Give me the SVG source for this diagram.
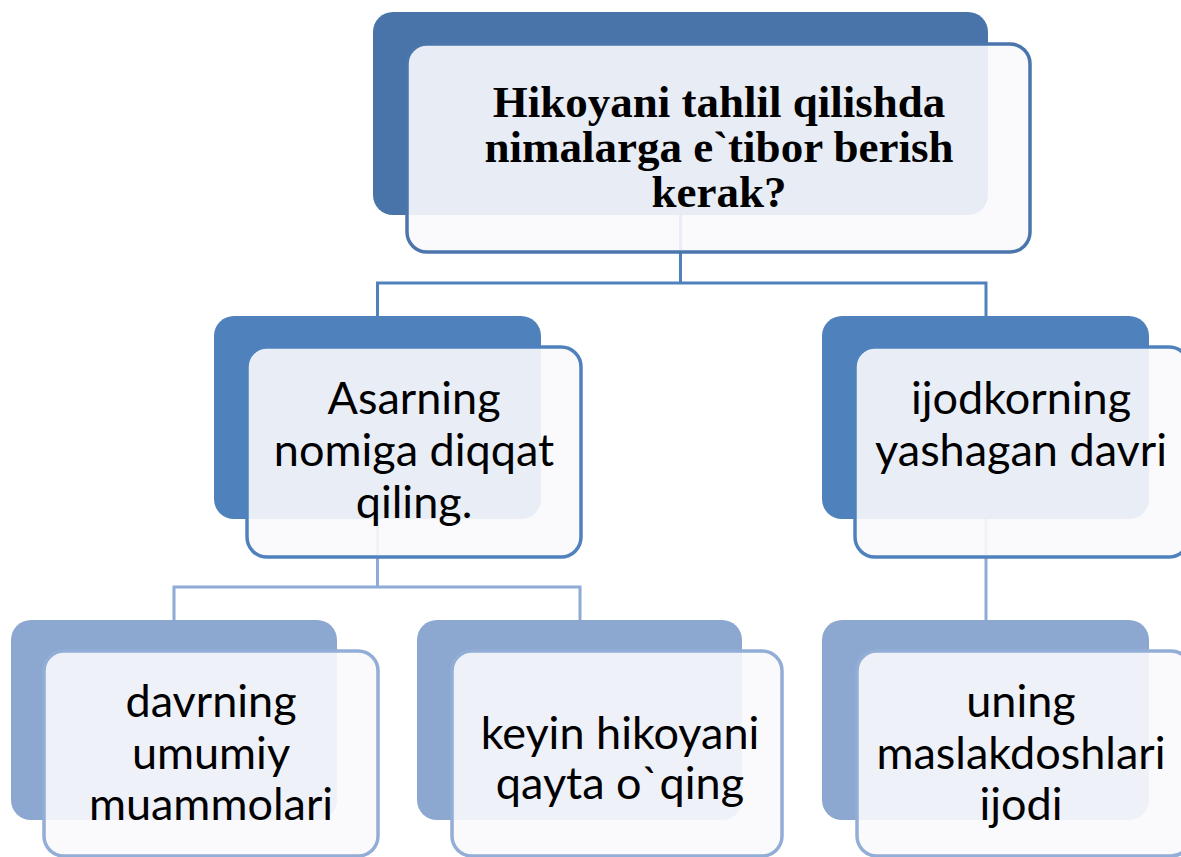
<svg xmlns="http://www.w3.org/2000/svg" width="1181" height="857" viewBox="0 0 1181 857">
  <style>
    .bg { fill: #ffffff; }
    .back1 { fill: #4874aa; }
    .back2 { fill: #4f81bd; }
    .back3 { fill: #8ca7d0; }
    .front { fill: #f9fafc; fill-opacity: 0.9; }
    .fs1 { stroke: #4a76ab; stroke-width: 3.5; }
    .fs2 { stroke: #4f81bd; stroke-width: 3.5; }
    .fs3 { stroke: #93aed6; stroke-width: 3.5; }
    .c1 { fill: none; stroke: #4f81bd; stroke-width: 3; }
    .c2 { fill: none; stroke: #8eaad6; stroke-width: 3; }
    .t1 { font-family: "Liberation Serif", "Times New Roman", serif; font-weight: bold; font-size: 45px; fill: #000; text-anchor: middle; }
    .t2 { font-family: Lato, "Open Sans", sans-serif; font-size: 45px; fill: #000; text-anchor: middle; }
  </style>
  <rect class="bg" x="0" y="0" width="1181" height="857"/>

  <g id="connectors">
    <path class="c1" d="M680.5 215 V283 M377.5 283 H986 M377.5 281.5 V316 M986 281.5 V316"/>
    <path class="c2" d="M377.5 519 V587 M174 587 H580 M174 585.5 V620 M580 585.5 V620"/>
    <path class="c2" d="M986 519 V620"/>
  </g>

  <g id="node-root">
    <rect class="back1" x="373" y="12" width="615" height="203" rx="20"/>
    <rect class="front fs1" x="407" y="44" width="623" height="208" rx="20"/>
    <text class="t1" x="719" y="117">Hikoyani tahlil qilishda</text>
    <text class="t1" x="719" y="162">nimalarga e`tibor berish</text>
    <text class="t1" x="719" y="207">kerak?</text>
  </g>

  <g id="node-asarning">
    <rect class="back2" x="214" y="316" width="327" height="203" rx="20"/>
    <rect class="front fs2" x="247" y="347" width="334" height="210" rx="20"/>
    <text class="t2" x="414" y="414">Asarning</text>
    <text class="t2" x="414" y="466">nomiga diqqat</text>
    <text class="t2" x="414" y="518">qiling.</text>
  </g>

  <g id="node-ijodkor">
    <rect class="back2" x="822" y="316" width="327" height="203" rx="20"/>
    <rect class="front fs2" x="855" y="347" width="334" height="210" rx="20"/>
    <text class="t2" x="1021" y="414">ijodkorning</text>
    <text class="t2" x="1021" y="466">yashagan davri</text>
  </g>

  <g id="node-davr">
    <rect class="back3" x="11" y="620" width="326" height="200" rx="20"/>
    <rect class="front fs3" x="44" y="651" width="334" height="205" rx="20"/>
    <text class="t2" x="211" y="717">davrning</text>
    <text class="t2" x="211" y="769">umumiy</text>
    <text class="t2" x="211" y="820">muammolari</text>
  </g>

  <g id="node-keyin">
    <rect class="back3" x="417" y="620" width="325" height="200" rx="20"/>
    <rect class="front fs3" x="452" y="651" width="330" height="205" rx="20"/>
    <text class="t2" x="620" y="749">keyin hikoyani</text>
    <text class="t2" x="620" y="799">qayta o`qing</text>
  </g>

  <g id="node-uning">
    <rect class="back3" x="822" y="620" width="327" height="200" rx="20"/>
    <rect class="front fs3" x="857" y="651" width="334" height="205" rx="20"/>
    <text class="t2" x="1021" y="717">uning</text>
    <text class="t2" x="1021" y="769">maslakdoshlari</text>
    <text class="t2" x="1021" y="820">ijodi</text>
  </g>
</svg>
